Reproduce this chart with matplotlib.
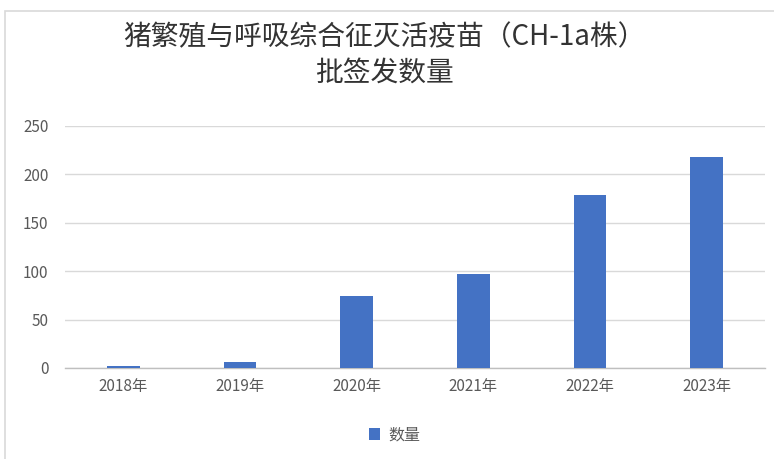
import matplotlib
matplotlib.use("Agg")
import matplotlib.pyplot as plt
from matplotlib.patches import Rectangle

plt.rcParams['font.family'] = ['Noto Sans CJK SC', 'DejaVu Sans']

categories = ['2018年', '2019年', '2020年', '2021年', '2022年', '2023年']
values = [2, 6, 74, 97, 179, 218]
series_name = '数量'
title = '猪繁殖与呼吸综合征灭活疫苗（CH-1a株）\n批签发数量'
yticks = [0, 50, 100, 150, 200, 250]

bar_color = '#4472C4'
text_color = '#595959'

fig = plt.figure(figsize=(7.74, 4.59), dpi=100)
fig.patch.set_facecolor('white')
fig.patches.append(Rectangle((5/774, -0.1), 1.2, 1 - 11/459 + 0.1,
                             transform=fig.transFigure, fill=False,
                             edgecolor='#d9d9d9', linewidth=1.2))

ax = fig.add_axes([65/774, (459-368)/459, 700/774, (368-126)/459])
x = list(range(len(categories)))
ax.bar(x, values, width=0.28, color=bar_color, label=series_name, zorder=3)
ax.set_xlim(-0.5, len(categories) - 0.5)
ax.set_ylim(0, 250)
ax.set_yticks(yticks)
ax.set_xticks(x)
ax.set_xticklabels(categories)
ax.yaxis.grid(True, color='#d9d9d9', linewidth=1, zorder=0)
ax.set_axisbelow(True)
for s in ['top', 'right', 'left']:
    ax.spines[s].set_visible(False)
ax.spines['bottom'].set_color('#bfbfbf')
ax.spines['bottom'].set_linewidth(1)
ax.tick_params(axis='both', length=0, colors=text_color, labelsize=11)
ax.tick_params(axis='x', pad=7)
ax.tick_params(axis='y', pad=12)

fig.text(0.497, 1 - 55/459, title, ha='center', va='center', fontsize=20,
         color='#333333', fontweight='medium', linespacing=1.25)

fig.legend(loc='center', bbox_to_anchor=(0.51, 1 - 435/459), frameon=False,
           fontsize=11.5, labelcolor=text_color, handlelength=0.7, handleheight=0.7,
           handletextpad=0.5)

fig.savefig('out.png', dpi=100)
